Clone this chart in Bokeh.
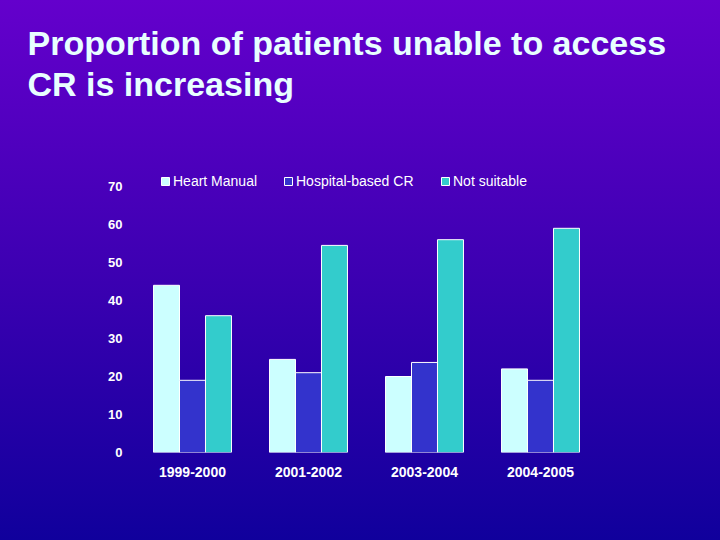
from bokeh.plotting import figure
from bokeh.models import (ColumnDataSource, FactorRange, Range1d, Legend, LegendItem, Title,
                          SingleIntervalTicker, GlobalInlineStyleSheet)
from bokeh.transform import dodge
from bokeh.embed import file_html
from bokeh.resources import INLINE

periods = ["1999-2000", "2001-2002", "2003-2004", "2004-2005"]
heart_manual = [44, 24.5, 20, 22]
hospital_cr = [19, 21, 23.7, 19]
not_suitable = [36, 54.5, 56, 59]
series_names = ["Heart Manual", "Hospital-based CR", "Not suitable"]
title_lines = ["Proportion of patients unable to access", "CR is increasing"]

src = ColumnDataSource(dict(period=periods, hm=heart_manual, hosp=hospital_cr, ns=not_suitable))

css = GlobalInlineStyleSheet(css="""
html { min-height: 100%; background: linear-gradient(to bottom, #6400CC 0%, #3D00B2 50%, #10009C 100%) fixed; }
body { background: transparent; }
""")

p = figure(width=704, height=524, x_range=FactorRange(factors=periods), y_range=Range1d(0, 75),
           output_backend="svg", toolbar_location=None, title=None,
           min_border_left=134, min_border_right=106, min_border_top=167, min_border_bottom=72,
           stylesheets=[css])
p.background_fill_alpha = 0
p.border_fill_alpha = 0
p.outline_line_color = None
p.grid.visible = False

bw = 0.224
FONT = "Liberation Sans"
cols = [("hm", "#CCFFFF", -bw), ("hosp", "#3333CC", 0), ("ns", "#33CCCC", bw)]
renderers = []
for key, color, off in cols:
    r = p.vbar(x=dodge("period", off, range=p.x_range), top=key, width=bw, source=src,
               fill_color=color, line_color="white", line_width=1)
    renderers.append(r)

# axes
p.yaxis.ticker = SingleIntervalTicker(interval=10)
p.yaxis.axis_line_color = None
p.yaxis.major_tick_line_color = None
p.yaxis.minor_tick_line_color = None
p.yaxis.major_label_standoff = 6
p.yaxis.major_label_text_color = "white"
p.yaxis.major_label_text_font = FONT
p.yaxis.major_label_text_font_style = "bold"
p.yaxis.major_label_text_font_size = "13px"

p.xaxis.axis_line_color = None
p.xaxis.major_tick_line_color = None
p.xaxis.minor_tick_line_color = None
p.xaxis.major_label_standoff = 8
p.xaxis.major_label_text_color = "white"
p.xaxis.major_label_text_font = FONT
p.xaxis.major_label_text_font_style = "bold"
p.xaxis.major_label_text_font_size = "14px"

# legends (one per item, placed individually)
leg_x = [26, 149, 306]
for name, r, lx in zip(series_names, renderers, leg_x):
    leg = Legend(items=[LegendItem(label=name, renderers=[r])], location=(lx, 263),
                 orientation="horizontal", background_fill_alpha=0, border_line_color=None,
                 padding=0, margin=0, glyph_width=10, glyph_height=10, label_standoff=3,
                 label_text_color="white", label_text_font=FONT, label_text_font_size="14px")
    p.add_layout(leg, "center")

# spacer between frame and title block
p.add_layout(Title(text=" ", text_font_size="1px", standoff=61), "above")
# title (two lines, inner line added first)
standoffs = [0, 2]
for txt, so in reversed(list(zip(title_lines, standoffs))):
    p.add_layout(Title(text=txt, align="left", offset=-107, text_color="#E8FFFF",
                       text_font=FONT, text_font_style="bold", text_font_size="34px",
                       standoff=so), "above")

open("out.html", "w").write(file_html(p, INLINE))
